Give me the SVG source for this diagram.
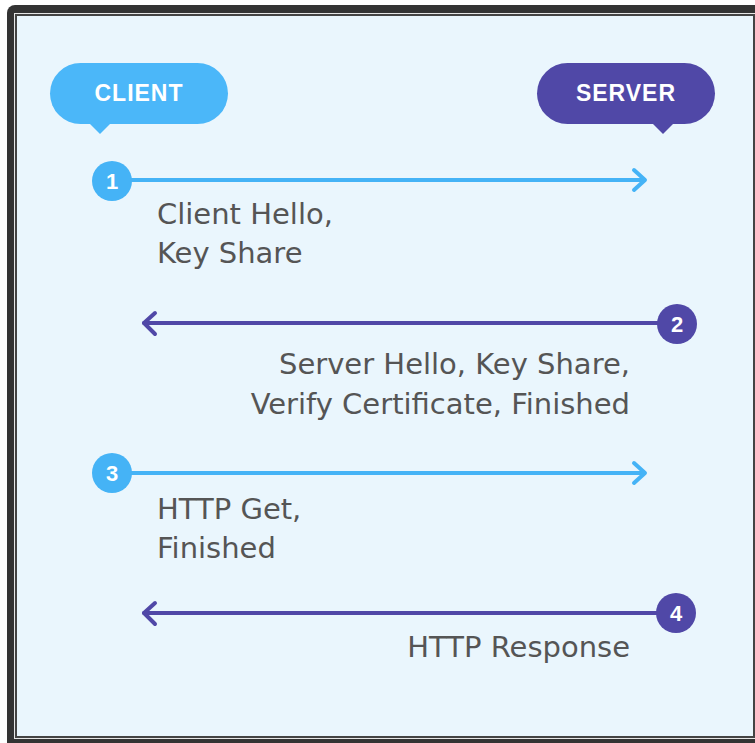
<svg xmlns="http://www.w3.org/2000/svg" width="755" height="743" viewBox="0 0 755 743">
  <defs>
    <style>
      .lbl { font-family: "DejaVu Sans", "Liberation Sans", sans-serif; font-size: 29px; fill: #555555; }
      .tag { font-family: "Liberation Sans", "DejaVu Sans", sans-serif; font-size: 23px; font-weight: bold; fill: #ffffff; text-anchor: middle; letter-spacing: 1px; }
      .num { font-family: "Liberation Sans", "DejaVu Sans", sans-serif; font-size: 22px; font-weight: bold; fill: #ffffff; text-anchor: middle; }
      .blue { stroke: #45b3f6; }
      .purple { stroke: #5048a7; }
      .ln { fill: none; stroke-width: 4; stroke-linecap: round; stroke-linejoin: round; }
    </style>
  </defs>

  <rect x="0" y="0" width="755" height="743" fill="#ffffff"/>
  <rect x="7" y="5" width="770" height="760" rx="8" fill="#333333"/>
  <rect x="14" y="13" width="760" height="726" fill="#e6e6e6"/>
  <rect x="15" y="14" width="740" height="724" fill="#444444"/>
  <rect x="17" y="16" width="736" height="720" fill="#eaf6fd"/>

  <g id="client">
    <rect x="50" y="63" width="178" height="61" rx="30.5" fill="#4bb7f9"/>
    <path d="M89,123 L100,134 L111,123 Z" fill="#4bb7f9"/>
    <text class="tag" x="139" y="101">CLIENT</text>
  </g>

  <g id="server">
    <rect x="537" y="63" width="178" height="61" rx="30.5" fill="#5048a7"/>
    <path d="M652,123 L663,134 L674,123 Z" fill="#5048a7"/>
    <text class="tag" x="626" y="101">SERVER</text>
  </g>

  <g id="connectors">
    <line class="ln blue" x1="112" y1="180" x2="644" y2="180"/>
    <polyline class="ln blue" points="634,170 645,180 634,190"/>
    <line class="ln purple" x1="144" y1="323" x2="677" y2="323"/>
    <polyline class="ln purple" points="155,313 144,323 155,334"/>
    <line class="ln blue" x1="112" y1="473" x2="644" y2="473"/>
    <polyline class="ln blue" points="634,463 645,473 634,483"/>
    <line class="ln purple" x1="144" y1="613" x2="677" y2="613"/>
    <polyline class="ln purple" points="155,603 144,613 155,624"/>
  </g>

  <g id="step1">
    <circle cx="112" cy="181" r="20" fill="#45b3f6"/>
    <text class="num" x="112" y="189">1</text>
    <text class="lbl" x="157" y="224">Client Hello,</text>
    <text class="lbl" x="157" y="263">Key Share</text>
  </g>

  <g id="step2">
    <circle cx="677" cy="324" r="20" fill="#5048a7"/>
    <text class="num" x="677" y="332">2</text>
    <text class="lbl" x="630" y="374" text-anchor="end">Server Hello, Key Share,</text>
    <text class="lbl" x="630" y="414" text-anchor="end">Verify Certificate, Finished</text>
  </g>

  <g id="step3">
    <circle cx="112" cy="473" r="20" fill="#45b3f6"/>
    <text class="num" x="112" y="481">3</text>
    <text class="lbl" x="157" y="519">HTTP Get,</text>
    <text class="lbl" x="157" y="558">Finished</text>
  </g>

  <g id="step4">
    <circle cx="676" cy="613" r="20" fill="#5048a7"/>
    <text class="num" x="676" y="621">4</text>
    <text class="lbl" x="630" y="657" text-anchor="end">HTTP Response</text>
  </g>
</svg>
